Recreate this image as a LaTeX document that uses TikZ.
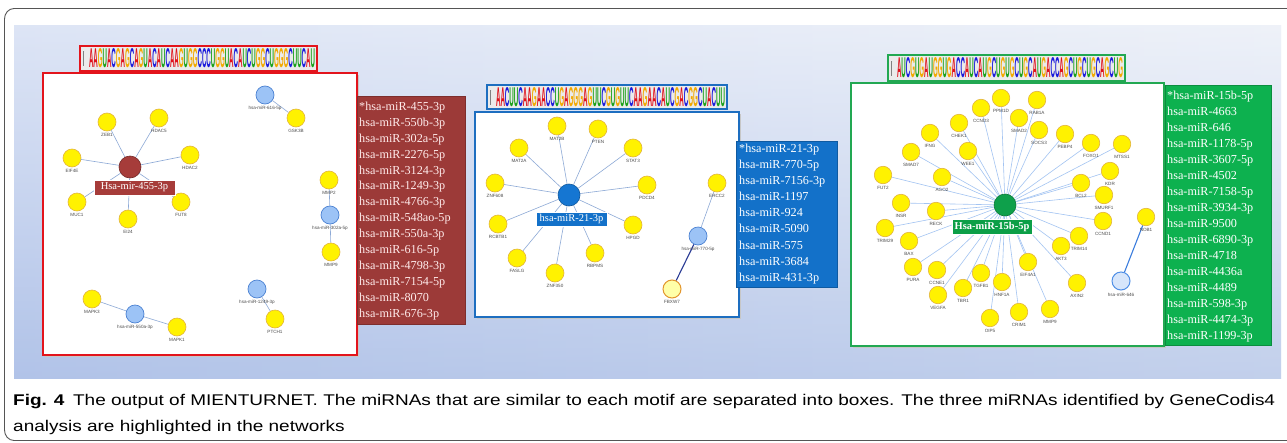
\documentclass[tikz,border=0pt]{standalone}
\usepackage{fontspec}
\usepackage{graphicx}
\setmainfont{Liberation Serif}
\setsansfont{Liberation Sans}
\newfontfamily\capfont{Liberation Sans}
\pgfdeclarelayer{bg}
\pgfdeclarelayer{edges}
\pgfsetlayers{bg,edges,main}
\definecolor{frameC}{HTML}{555555}
\definecolor{bgL}{HTML}{C2D0EE}
\definecolor{bgR}{HTML}{E1E7F4}
\definecolor{bgB}{HTML}{9DB4E2}
\definecolor{redB}{HTML}{E3141C}
\definecolor{redL}{HTML}{9C3A38}
\definecolor{redHub}{HTML}{A63C3A}
\definecolor{bluB}{HTML}{1D6EC0}
\definecolor{bluL}{HTML}{1371C9}
\definecolor{bluHub}{HTML}{1576D2}
\definecolor{grnB}{HTML}{22A852}
\definecolor{grnL}{HTML}{0DB14F}
\definecolor{grnHub}{HTML}{0EA04B}
\definecolor{yelF}{HTML}{FFF200}
\definecolor{yelD}{HTML}{E2B33C}
\definecolor{mirF}{HTML}{9CC3F6}
\definecolor{mirD}{HTML}{4C82D2}
\definecolor{edgeC}{HTML}{8DA9D6}
\definecolor{edgeR}{HTML}{A3C4F2}
\definecolor{mA}{HTML}{E0101A}
\definecolor{mC}{HTML}{1A1ADB}
\definecolor{mG}{HTML}{F2A900}
\definecolor{mU}{HTML}{18A018}
\makeatletter
\newcommand\motif[1]{\@tfor\mch:=#1\do{\motifch}}
\newcommand\motifch{\if A\mch\textcolor{mA}{A}\else\if C\mch\textcolor{mC}{C}\else\if G\mch\textcolor{mG}{G}\else\textcolor{mU}{U}\fi\fi\fi}
\makeatother
\newsavebox\capA
\newsavebox\capB
\tikzset{
  gene/.style={circle, draw=yelD, fill=yelF, line width=0.6pt, minimum size=18pt, inner sep=0pt},
  genes/.style={gene, minimum size=17.5pt},
  mir/.style={circle, draw=mirD, fill=mirF, line width=0.7pt, minimum size=18pt, inner sep=0pt},
  lbl/.style={font=\sffamily\fontsize{4.6}{5}\selectfont, text=black!70, inner sep=0pt},
  lnk/.style={draw=edgeC, line width=0.6pt},
  lnkR/.style={draw=edgeR, line width=0.6pt},
  hub/.style={circle, minimum size=22pt, inner sep=0pt, line width=0.6pt},
  hubtag/.style={inner sep=0pt, text=white, font=\fontsize{10.5}{12}\selectfont, draw=white!60, line width=0.4pt},
  panel/.style={fill=white, line width=2.4pt},
  logobox/.style={fill=white!92!black, line width=1.4pt, inner sep=0pt},
  listtxt/.style={anchor=base west, inner sep=0pt, text=white, font=\fontsize{12.2}{14}\selectfont},
  captxt/.style={anchor=base west, inner sep=0pt, text=black!85}
}
\begin{document}
\sbox\capA{\capfont\fontsize{15.5}{18}\selectfont\textbf{Fig. 4}\hspace{7pt}The output of MIENTURNET. The miRNAs that are similar to each motif are separated into boxes. The three miRNAs identified by GeneCodis4}
\sbox\capB{\capfont\fontsize{15.5}{18}\selectfont analysis are highlighted in the networks}
\pgfmathsetmacro{\capx}{1262/(\wd\capA)}
\begin{tikzpicture}[x=1pt,y=-1pt, label distance=2pt, every label/.style={lbl}]
\useasboundingbox (0,0) rectangle (1287,442);
\begin{pgfonlayer}{bg}
  % outer frame
  \draw[frameC, line width=0.9pt] (1290,8.5) -- (14,8.5) to[out=180,in=90] (4.5,19) -- (4.5,430) to[out=-90,in=180] (14,440.5) -- (1290,440.5);
  % background band
  \shade[left color=bgL, right color=bgR] (14,25) rectangle (1281,378);
  \shade[top color=white, bottom color=bgB, opacity=0.45] (14,25) rectangle (1281,378);
  % shadows
  \fill[black!22] (45,75) rectangle (359,357);
  \fill[black!22] (477,114) rectangle (741,319);
  \fill[black!22] (853,85) rectangle (1166,348);
  % panels
  \node[panel, draw=redB, minimum width=314pt, minimum height=282pt, anchor=north west] (p1) at (42,72) {};
  \node[panel, draw=bluB, line width=2pt, minimum width=264pt, minimum height=205pt, anchor=north west] (p2) at (474,111) {};
  \node[panel, draw=grnB, minimum width=313pt, minimum height=263pt, anchor=north west] (p3) at (850,82) {};
  % list boxes
  \node[fill=redL, draw=redL!80!black, line width=0.5pt, minimum width=108pt, minimum height=228pt, anchor=north west] (l1) at (357,96) {};
  \node[fill=bluL, draw=bluL!80!black, line width=0.5pt, minimum width=101pt, minimum height=146pt, anchor=north west] (l2) at (736,141) {};
  \node[fill=grnL, draw=grnL!80!black, line width=0.5pt, minimum width=106pt, minimum height=260pt, anchor=north west] (l3) at (1165,85) {};
  % motif logo boxes
  \node[logobox, draw=redB, minimum width=237pt, minimum height=25pt] (g1) at (198.5,58.5) {};
  \node[logobox, draw=bluB, minimum width=240pt, minimum height=24pt] (g2) at (607,97) {};
  \node[logobox, draw=grnB, minimum width=237pt, minimum height=26pt] (g3) at (1006.5,68) {};
\end{pgfonlayer}
% motif letters
\node[inner sep=0pt] (t1) at (202,58.5) {\resizebox{226pt}{19pt}{\sffamily\bfseries\motif{AAGUACGAGCAGUACAUCAAGUGGCCCUGGUACAUCUGGCUGGGCUUCAU}}};
\node[inner sep=0pt] (t2) at (610.5,97) {\resizebox{229pt}{19pt}{\sffamily\bfseries\motif{AACUUCAAGAACCUGAGGGAGUUCGUGUUCAAGAACAUCGACGGCUACUU}}};
\node[inner sep=0pt] (t3) at (1010,68) {\resizebox{226pt}{20pt}{\sffamily\bfseries\motif{AUCGUGAUGGUGACCAUCAUGCUGUGCUGCAUGACCAGCUGCUGCAGCUG}}};
\draw[gray, line width=0.4pt] (g1.west) ++(5,-7) coordinate (b1a) -- ++(-1.5,0) -- ++(0,14) -- ++(1.5,0);
\draw[gray, line width=0.4pt] (g2.west) ++(5,-7) coordinate (b2a) -- ++(-1.5,0) -- ++(0,14) -- ++(1.5,0);
\draw[gray, line width=0.4pt] (g3.west) ++(5,-7) coordinate (b3a) -- ++(-1.5,0) -- ++(0,14) -- ++(1.5,0);

% ===== left network =====
\node[hub, fill=redHub, draw=redHub!70!black] (h1) at (130,167) {};
\node[gene, label=below:ZEB1] (zeb1) at (107,122) {};
\node[gene, label=below:HDAC5] (hdac5) at (159,118) {};
\node[gene, label=below:EIF4E] (eif4e) at (72,158) {};
\node[gene, label=below:HDAC2] (hdac2) at (190,155) {};
\node[gene, label=below:MUC1] (muc1) at (77,202) {};
\node[gene, label=below:EI24] (ei24) at (128,219) {};
\node[gene, label=below:FUT8] (fut8) at (181,202) {};
\node[mir, label=below:hsa-miR-616-5p] (m616) at (265,95) {};
\node[gene, label=below:GSK3B] (gsk3b) at (296,118) {};
\node[gene, label=below:MMP2] (mmp2) at (329,180) {};
\node[mir, label=below:hsa-miR-302a-5p] (m302) at (330,215) {};
\node[gene, label=below:MMP9] (mmp9a) at (331,252) {};
\node[gene, label=below:MAPK3] (mapk3) at (92,299) {};
\node[mir, label=below:hsa-miR-550a-3p] (m550) at (135,314) {};
\node[gene, label=below:MAPK1] (mapk1) at (177,327) {};
\node[mir, label=below:hsa-miR-1249-3p] (m1249) at (257,289) {};
\node[gene, label=below:PTCH1] (ptch1) at (275,319) {};
\node[hubtag, fill=redHub, minimum width=81pt, minimum height=15pt] (h1t) at (134.5,187.5) {Hsa-mir-455-3p};
\begin{pgfonlayer}{edges}
  \foreach \n in {zeb1,hdac5,eif4e,hdac2,muc1,ei24,fut8} \draw[lnk] (h1) -- (\n);
  \draw[lnk] (m616) -- (gsk3b);
  \draw[lnk] (mmp2) -- (m302);
  \draw[lnk] (m302) -- (mmp9a);
  \draw[lnk] (mapk3) -- (m550);
  \draw[lnk] (m550) -- (mapk1);
  \draw[lnk] (m1249) -- (ptch1);
\end{pgfonlayer}

% ===== middle network =====
\node[hub, fill=bluHub, draw=bluHub!75!black] (h2) at (569,195) {};
\node[gene, label=below:MAT2B] (mat2b) at (557,126) {};
\node[gene, label=below:PTEN] (pten) at (598,129) {};
\node[gene, label=below:MAT2A] (mat2a) at (519,148) {};
\node[gene, label=below:STAT3] (stat3) at (633,148) {};
\node[gene, label=below:ZNF608] (znf608) at (495,183) {};
\node[gene, label=below:PDCD4] (pdcd4) at (647,185) {};
\node[gene, label=below:RCBTB1] (rcbtb1) at (498,224) {};
\node[gene, label=below:HPGD] (hpgd) at (633,225) {};
\node[gene, label=below:FASLG] (faslg) at (517,258) {};
\node[gene, label=below:RBPMS] (rbpms) at (595,253) {};
\node[gene, label=below:ZNF350] (znf350) at (555,273) {};
\node[gene, label=below:ERCC2] (ercc2) at (717,183) {};
\node[mir, label=below:hsa-miR-770-5p] (m770) at (698,236) {};
\node[gene, fill={rgb,255:red,255;green,255;blue,168}, draw={rgb,255:red,227;green,150;blue,45}, line width=1pt, label=below:FBXW7] (fbxw7) at (672,289) {};
\node[hubtag, fill=bluL, minimum width=71pt, minimum height=14pt] (h2t) at (571.5,219) {hsa-miR-21-3p};
\begin{pgfonlayer}{edges}
  \foreach \n in {mat2b,pten,mat2a,stat3,znf608,pdcd4,rcbtb1,hpgd,faslg,rbpms,znf350} \draw[lnk] (h2) -- (\n);
  \draw[lnk] (ercc2) -- (m770);
  \draw[draw={rgb,255:red,40;green,58;blue,148}, line width=1.1pt] (m770) -- (fbxw7);
\end{pgfonlayer}

% ===== right network =====
\node[hub, fill=grnHub, draw=grnHub!75!black] (h3) at (1005,205) {};
\foreach \nm/\x/\y/\lab in {
  ppm1d/1001/98/PPM1D, rab1a/1037/100/RAB1A, ccnd3/981/108/CCND3, smad2/1019/118/SMAD2,
  chek1/959/123/CHEK1, socs3/1039/130/SOCS3, ifng/930/133/IFNG, pebp4/1065/134/PEBP4,
  foxo1/1091/143/FOXO1, mtss1/1122/144/MTSS1, smad7/911/152/SMAD7, wee1/968/151/WEE1,
  fut2/883/175/FUT2, ago2/942/177/AGO2, kdr/1110/171/KDR, bcl2/1081/183/BCL2,
  smurf1/1104/195/SMURF1, insr/901/203/INSR, reck/936/211/RECK, trim29/885/228/TRIM29,
  bax/909/241/BAX, pura/913/267/PURA, ccne1/937/270/CCNE1, vegfa/938/295/VEGFA,
  tbr1/963/288/TBR1, tgfb1/981/273/TGFB1, hnf1a/1002/282/HNF1A, oip5/990/318/OIP5,
  crim1/1019/312/CRIM1, eif4a1/1028/262/EIF4A1, mmp9/1050/309/MMP9, akt3/1061/246/AKT3,
  trim14/1079/236/TRIM14, axin2/1077/283/AXIN2, ccnd1/1103/221/CCND1}
  \node[genes, label=below:\lab] (\nm) at (\x,\y) {};
\node[genes, label=below:NOB1] (nob1) at (1146,217) {};
\node[circle, minimum size=18pt, inner sep=0pt, fill={rgb,255:red,215;green,230;blue,251}, draw={rgb,255:red,79;green,143;blue,230}, line width=1pt, label=below:hsa-miR-646] (m646) at (1121,281) {};
\node[hubtag, fill=grnL!90!black, font=\bfseries\fontsize{10.5}{12}\selectfont, minimum width=80pt, minimum height=15pt] (h3t) at (992,226.5) {Hsa-miR-15b-5p};
\begin{pgfonlayer}{edges}
  \foreach \n in {ppm1d,rab1a,ccnd3,smad2,chek1,socs3,ifng,pebp4,foxo1,mtss1,smad7,wee1,fut2,ago2,kdr,bcl2,smurf1,insr,reck,trim29,bax,pura,ccne1,vegfa,tbr1,tgfb1,hnf1a,oip5,crim1,eif4a1,mmp9,akt3,trim14,axin2,ccnd1}
    \draw[lnkR] (h3) -- (\n);
  \draw[draw={rgb,255:red,59;green,125;blue,221}, line width=1.1pt] (nob1) -- (m646);
\end{pgfonlayer}

% ===== lists =====
\foreach \t [count=\i] in {*hsa-miR-455-3p,hsa-miR-550b-3p,hsa-miR-302a-5p,hsa-miR-2276-5p,hsa-miR-3124-3p,hsa-miR-1249-3p,hsa-miR-4766-3p,hsa-miR-548ao-5p,hsa-miR-550a-3p,hsa-miR-616-5p,hsa-miR-4798-3p,hsa-miR-7154-5p,hsa-miR-8070,hsa-miR-676-3p}
  \node[listtxt, text=white!92!red] (la\i) at (359,{110.4+15.9*(\i-1)}) {\t};
\foreach \t [count=\i] in {*hsa-miR-21-3p,hsa-miR-770-5p,hsa-miR-7156-3p,hsa-miR-1197,hsa-miR-924,hsa-miR-5090,hsa-miR-575,hsa-miR-3684,hsa-miR-431-3p}
  \node[listtxt] (lb\i) at (739,{152.4+16.1*(\i-1)}) {\t};
\foreach \t [count=\i] in {*hsa-miR-15b-5p,hsa-miR-4663,hsa-miR-646,hsa-miR-1178-5p,hsa-miR-3607-5p,hsa-miR-4502,hsa-miR-7158-5p,hsa-miR-3934-3p,hsa-miR-9500,hsa-miR-6890-3p,hsa-miR-4718,hsa-miR-4436a,hsa-miR-4489,hsa-miR-598-3p,hsa-miR-4474-3p,hsa-miR-1199-3p}
  \node[listtxt] (lc\i) at (1167,{99.4+16*(\i-1)}) {\t};

% ===== caption =====
\node[captxt] (cap1) at (13,405) {\scalebox{\capx}[1]{\usebox\capA}};
\node[captxt] (cap2) at (13,431) {\scalebox{\capx}[1]{\usebox\capB}};
\end{tikzpicture}
\end{document}
